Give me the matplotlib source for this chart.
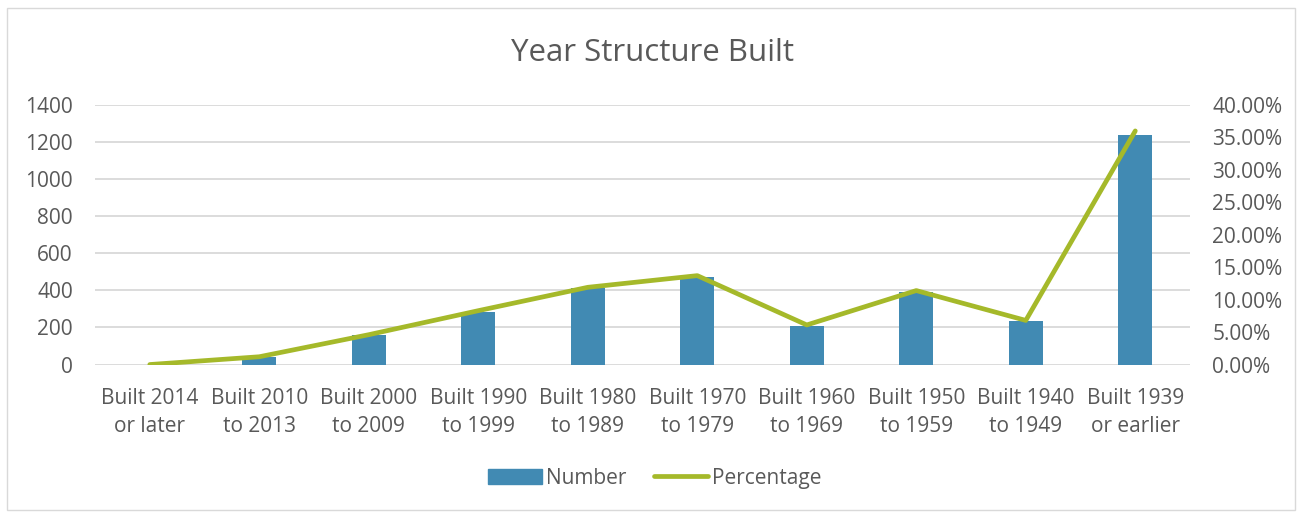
import matplotlib
matplotlib.use("Agg")
import matplotlib.pyplot as plt
from matplotlib.patches import Rectangle
from matplotlib.ticker import FuncFormatter
from matplotlib.lines import Line2D

categories = ["Built 2014\nor later", "Built 2010\nto 2013", "Built 2000\nto 2009",
              "Built 1990\nto 1999", "Built 1980\nto 1989", "Built 1970\nto 1979",
              "Built 1960\nto 1969", "Built 1950\nto 1959", "Built 1940\nto 1949",
              "Built 1939\nor earlier"]
number = [0, 42, 159, 285, 411, 470, 209, 393, 235, 1238]
percentage = [0.0, 0.012, 0.046, 0.083, 0.119, 0.137, 0.061, 0.114, 0.068, 0.360]
left_ticks = [0, 200, 400, 600, 800, 1000, 1200, 1400]
right_ticks = [0, 0.05, 0.10, 0.15, 0.20, 0.25, 0.30, 0.35, 0.40]

plt.rcParams['font.family'] = ['Open Sans', 'DejaVu Sans']
text_color = "#595959"
bar_color = "#418AB3"
line_color = "#A5B92A"
grid_color = "#D9D9D9"
fs = 15

fig = plt.figure(figsize=(13.02, 5.12), dpi=100)
fig.patches.append(Rectangle((0.005, 0.004), 0.99, 0.98, transform=fig.transFigure,
                             fill=False, edgecolor="#D9D9D9", linewidth=1))
ax = fig.add_axes([0.073, 0.288, 0.841, 0.507])
x = list(range(len(categories)))
ax.bar(x, number, width=0.31, color=bar_color, zorder=2, label="Number")
ax.set_ylim(0, 1400)
ax.set_xlim(-0.5, len(categories) - 0.5)
ax.set_yticks(left_ticks)
ax.grid(axis='y', color=grid_color, linewidth=1.3, zorder=0)
ax.set_axisbelow(True)
for s in ax.spines.values():
    s.set_visible(False)
ax.tick_params(axis='both', length=0, colors=text_color, labelsize=fs)
ax.tick_params(axis='y', pad=16)
ax.tick_params(axis='x', pad=17)
ax.set_xticks(x)
ax.set_xticklabels(categories, linespacing=1.45)

ax2 = ax.twinx()
ax2.plot(x, percentage, color=line_color, linewidth=3.4, solid_capstyle='round',
         solid_joinstyle='round', zorder=3, label="Percentage")
ax2.set_ylim(0, 0.40)
ax2.set_yticks(right_ticks)
ax2.yaxis.set_major_formatter(FuncFormatter(lambda v, p: f"{v*100:.2f}%"))
for s in ax2.spines.values():
    s.set_visible(False)
ax2.tick_params(axis='y', length=0, colors=text_color, labelsize=fs, pad=16)

fig.text(0.501, 0.897, "Year Structure Built", ha='center', va='center',
         fontsize=22.5, color=text_color)

handles = [Rectangle((0, 0), 1, 1, color=bar_color),
           Line2D([0], [0], color=line_color, linewidth=3.4, solid_capstyle='round')]
fig.legend(handles, ["Number", "Percentage"], loc='center', bbox_to_anchor=(0.503, 0.066),
           ncol=2, frameon=False, fontsize=fs, labelcolor=text_color,
           handlelength=2.6, handletextpad=0.2, columnspacing=1.3)

fig.savefig("out.png", dpi=100)
